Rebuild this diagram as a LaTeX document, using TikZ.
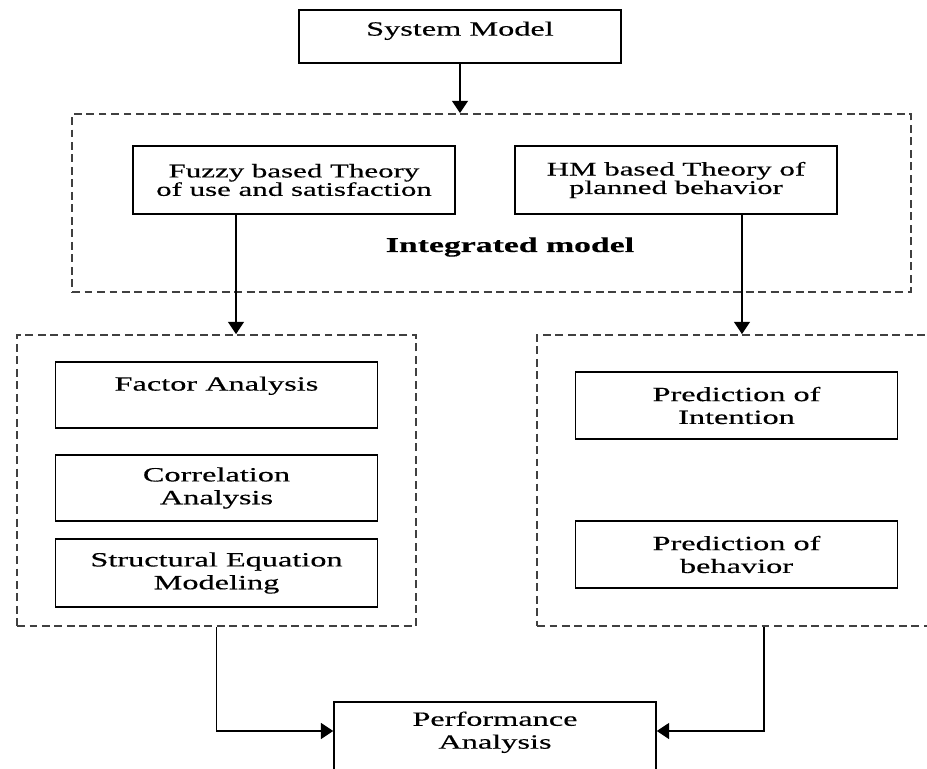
\documentclass[tikz,border=0pt]{standalone}
\usepackage{fontspec}
\setmainfont[FakeStretch=1.6,FakeBold=0.4]{Liberation Serif}
\usepackage{tikz}
\usetikzlibrary{arrows.meta}
\tikzset{
    box/.style={draw, line width=0.9pt, align=center, inner sep=1pt, minimum width=6.44cm, font=\fontsize{11.5}{13}\selectfont},
    tightbox/.style={box, font=\fontsize{11}{10.5}\selectfont},
    group/.style={draw=black!75, dashed, dash pattern=on 4.5pt off 2.6pt, line width=1pt, inner sep=0pt},
    arr/.style={draw, line width=1pt, -{Triangle[length=7pt,width=9pt]}}
}
\begin{document}
\begin{tikzpicture}[x=0.02cm, y=-0.02cm]
\useasboundingbox (0,0) rectangle (927,768);

% dashed groups
\node[group, minimum width=16.78cm, minimum height=3.56cm] (intmodel) at (491.5,203) {};
\node[group, minimum width=7.98cm, minimum height=5.82cm] (leftgrp) at (216.5,480.5) {};
\node[group, minimum width=9.08cm, minimum height=5.82cm] (rightgrp) at (764,480.5) {};

% boxes
\node[box, minimum height=1.06cm] (sysmodel) at (460,36.5) {System Model\\[-4pt]~};
\node[tightbox, minimum height=1.36cm] (fuzzy) at (294,180) {Fuzzy based Theory\\of use and satisfaction};
\node[tightbox, minimum height=1.36cm] (hm) at (676,180) {HM based Theory of\\planned behavior};
\node[font=\fontsize{12}{14}\selectfont\bfseries] (intlabel) at (510,247) {Integrated model};

\node[box, minimum height=1.32cm] (factor) at (216.5,395) {Factor Analysis\\ ~};
\node[box, minimum height=1.32cm] (corr) at (216.5,488) {Correlation\\Analysis};
\node[box, minimum height=1.36cm] (sem) at (216.5,573) {Structural Equation\\Modeling};

\node[box, minimum height=1.34cm] (predint) at (736.5,405.5) {Prediction of\\Intention};
\node[box, minimum height=1.34cm] (predbeh) at (736.5,554.5) {Prediction of\\behavior};

\node[box, minimum height=1.44cm] (perf) at (495,738) {Performance\\Analysis\\[-4pt]~};

% connectors
\draw[arr] (sysmodel.south) -- (sysmodel.south |- intmodel.north);
\draw[arr] ([xshift=-1.16cm]fuzzy.south) -- ([xshift=-1.16cm]fuzzy.south |- leftgrp.north);
\draw[arr] ([xshift=1.32cm]hm.south) -- ([xshift=1.32cm]hm.south |- rightgrp.north);
\draw[arr] (leftgrp.south) |- ([yshift=0.14cm]perf.west);
\draw[arr] (rightgrp.south) |- ([yshift=0.14cm]perf.east);

\end{tikzpicture}
\end{document}
